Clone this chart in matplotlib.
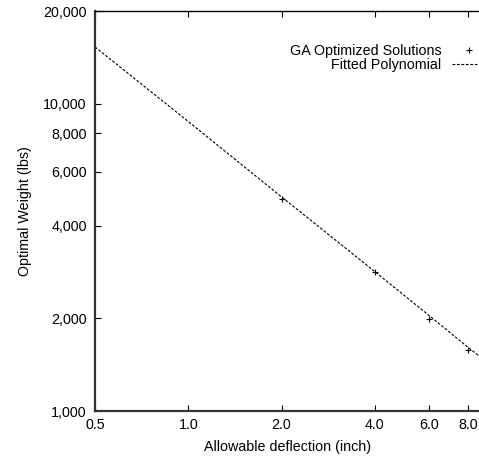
import matplotlib
matplotlib.use("Agg")
import matplotlib.pyplot as plt
from matplotlib.ticker import FixedLocator, FixedFormatter, NullLocator

plt.rcParams['font.family'] = ['Liberation Sans', 'DejaVu Sans']

# GA optimized solutions
ga_x = [2.0, 4.0, 6.0, 8.0]
ga_y = [4880, 2840, 1990, 1580]

# Fitted polynomial
fit_x = [0.5, 1.0, 2.0, 4.0, 6.0, 8.0, 8.75]
fit_y = [15280, 8740, 4970, 2840, 2040, 1610, 1500]

xticks = [0.5, 1.0, 2.0, 4.0, 6.0, 8.0]
xtick_labels = ["0.5", "1.0", "2.0", "4.0", "6.0", "8.0"]
yticks = [1000, 2000, 4000, 6000, 8000, 10000, 20000]
ytick_labels = ["1,000", "2,000", "4,000", "6,000", "8,000", "10,000", "20,000"]

FS = 10.3

fig = plt.figure(figsize=(4.79, 4.61), dpi=100)
ax = fig.add_axes([95/479, 50/461, 386/479, 400/461])

ax.plot(ga_x, ga_y, linestyle='none', marker='+', color='black', markersize=5,
        markeredgewidth=0.8, label='GA Optimized Solutions')
ax.plot(fit_x, fit_y, linestyle=(0, (2.5, 1.5)), color='black', linewidth=0.8,
        label='Fitted Polynomial')

ax.set_xscale('log')
ax.set_yscale('log')
ax.set_xlim(0.5, 8.8)
ax.set_ylim(1000, 20000)

ax.xaxis.set_major_locator(FixedLocator(xticks))
ax.xaxis.set_major_formatter(FixedFormatter(xtick_labels))
ax.xaxis.set_minor_locator(NullLocator())
ax.yaxis.set_major_locator(FixedLocator(yticks))
ax.yaxis.set_major_formatter(FixedFormatter(ytick_labels))
ax.yaxis.set_minor_locator(NullLocator())

ax.tick_params(axis='both', direction='in', length=4, width=0.8, labelsize=FS,
               top=True, right=False, pad=6, colors='black')
ax.tick_params(axis='x', pad=5)

ax.spines['left'].set_linewidth(1.6)
ax.spines['bottom'].set_linewidth(1.6)
ax.spines['left'].set_color('#333333')
ax.spines['bottom'].set_color('#333333')
ax.spines['top'].set_linewidth(1.0)
ax.spines['right'].set_visible(False)

ax.set_xlabel('Allowable deflection (inch)', fontsize=FS, labelpad=6)
ax.set_ylabel('Optimal Weight (lbs)', fontsize=FS, labelpad=8)

leg = ax.legend(loc='upper right', bbox_to_anchor=(1.013, 0.9175), frameon=False,
                markerfirst=False, fontsize=FS, handlelength=2.36,
                handletextpad=0.76, labelspacing=0.0, borderpad=0.0,
                borderaxespad=0.0)
for t in leg.get_texts():
    t.set_ha('right')

fig.savefig('out.png', dpi=100)
